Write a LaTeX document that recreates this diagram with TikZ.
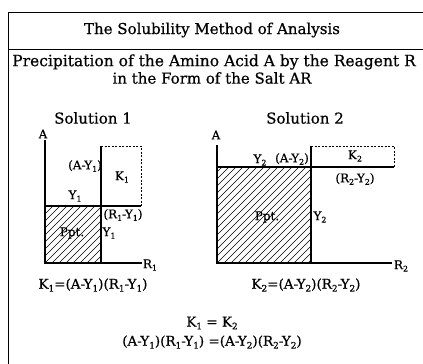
\documentclass[tikz,border=0pt]{standalone}
\usepackage{fontspec}
\setmainfont[FakeBold=0.6]{DejaVu Serif}
\newcommand{\lsub}[1]{\raisebox{-0.4ex}{\fontsize{\the\dimexpr 0.66\fontdimen6\font\relax}{0pt}\selectfont #1}}
\begin{document}
\begin{tikzpicture}[x=1pt,y=-1pt,
  frame/.style={line width=1pt},
  axis/.style={line width=1.8pt},
  dashbox/.style={line width=0.9pt, dash pattern=on 2pt off 1.5pt},
  hatch/.style={line width=0.55pt},
  head/.style={inner sep=0pt, font=\fontsize{15}{17}\selectfont},
  lbl/.style={inner sep=0pt, font=\fontsize{12}{14}\selectfont},
  sol/.style={inner sep=0pt, font=\fontsize{15}{17}\selectfont},
  eq/.style={inner sep=0pt, font=\fontsize{13.5}{15}\selectfont}]
\useasboundingbox (0,0) rectangle (423,364);
% frame
\coordinate (fTL) at (8,12); \coordinate (fTR) at (423,12);
\coordinate (fML) at (8,49); \coordinate (fMR) at (423,49);
\coordinate (fBL) at (8,364);
\draw[frame] (fTR) -- (fTL) -- (fBL);
\draw[frame] (fML) -- (fMR);
% headings
\node[head] (title) at (212,30) {The Solubility Method of Analysis};
\node[head, font=\fontsize{15.5}{17}\selectfont] (sub1) at (214,62) {Precipitation of the Amino Acid A by the Reagent R};
\node[head] (sub2) at (212,78) {in the Form of the Salt AR};
\node[sol] (s1) at (93,118) {Solution 1};
\node[sol] (s2) at (305,118) {Solution 2};
% ---------- Solution 1 ----------
\coordinate (o1) at (45,263);
\coordinate (a1) at (45,140);
\coordinate (r1) at (142,263);
\coordinate (y1l) at (45,206);
\coordinate (y1r) at (141,206);
\coordinate (v1t) at (101,146);
\coordinate (v1b) at (101,263);
\coordinate (d1) at (141,146);
\begin{scope}
  \clip (45,206) rectangle (101,263);
  \foreach \i in {-126,-119,...,126} \draw[hatch] (45+\i,263) -- ++(120,-120);
\end{scope}
\draw[dashbox] (v1t) -- (d1) -- (y1r);
\draw[axis] (a1) -- (o1) -- (r1);
\draw[axis] (y1l) -- (y1r);
\draw[axis] (v1t) -- (v1b);
\node[lbl] (A1) at (43,134) {A};
\node[lbl] (AY1) at (85,166) {(A-Y\lsub{1})};
\node[lbl] (K1) at (122,177) {K\lsub{1}};
\node[lbl] (Y1a) at (75,196) {Y\lsub{1}};
\node[lbl] (RY1) at (123,215) {(R\lsub{1}-Y\lsub{1})};
\node[lbl] (P1) at (72,233) {Ppt.};
\node[lbl] (Y1b) at (109,233) {Y\lsub{1}};
\node[lbl] (R1) at (150,265) {R\lsub{1}};
% ---------- Solution 2 ----------
\coordinate (o2) at (217,263);
\coordinate (a2) at (217,145);
\coordinate (r2) at (392,263);
\coordinate (y2l) at (217,167);
\coordinate (y2r) at (394,167);
\coordinate (v2t) at (311,146);
\coordinate (v2b) at (311,263);
\coordinate (d2) at (394,146);
\begin{scope}
  \clip (217,167) rectangle (311,263);
  \foreach \i in {-126,-119,...,126} \draw[hatch] (217+\i,263) -- ++(120,-120);
\end{scope}
\draw[dashbox] (v2t) -- (d2) -- (y2r);
\draw[axis] (a2) -- (o2) -- (r2);
\draw[axis] (y2l) -- (y2r);
\draw[axis] (v2t) -- (v2b);
\node[lbl] (A2) at (216,135) {A};
\node[lbl] (Y2a) at (260,160) {Y\lsub{2}};
\node[lbl] (AY2) at (292,159) {(A-Y\lsub{2})};
\node[lbl] (K2) at (355,156) {K\lsub{2}};
\node[lbl] (RY2) at (355,179) {(R\lsub{2}-Y\lsub{2})};
\node[lbl] (P2) at (267,217) {Ppt.};
\node[lbl] (Y2b) at (320,217) {Y\lsub{2}};
\node[lbl] (R2) at (401,266) {R\lsub{2}};
% ---------- equations ----------
\node[eq] (e1) at (93,285) {K\lsub{1}=(A-Y\lsub{1})(R\lsub{1}-Y\lsub{1})};
\node[eq] (e2) at (306,285) {K\lsub{2}=(A-Y\lsub{2})(R\lsub{2}-Y\lsub{2})};
\node[eq] (e3) at (212,323) {K\lsub{1} = K\lsub{2}};
\node[eq] (e4) at (212,342) {(A-Y\lsub{1})(R\lsub{1}-Y\lsub{1}) =(A-Y\lsub{2})(R\lsub{2}-Y\lsub{2})};
\end{tikzpicture}
\end{document}
